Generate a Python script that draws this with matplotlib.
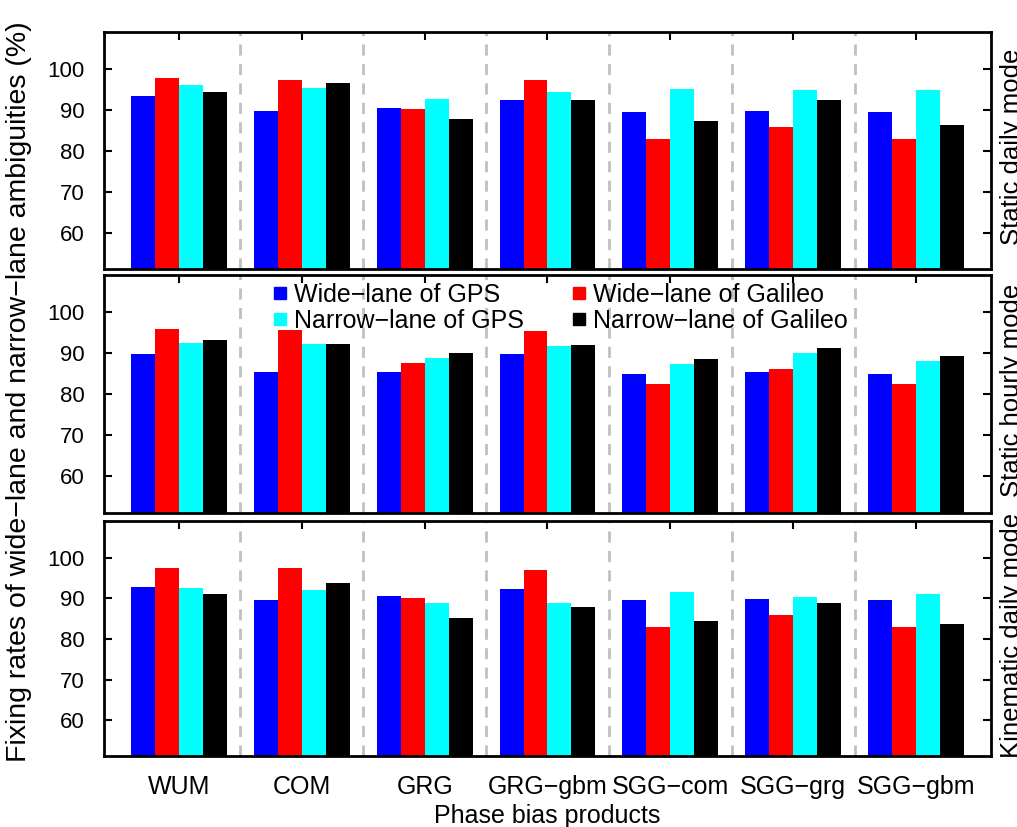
import matplotlib
matplotlib.use("Agg")
import matplotlib.pyplot as plt
from matplotlib.lines import Line2D
import numpy as np

plt.rcParams['font.family'] = ['Liberation Sans', 'DejaVu Sans']

# phase bias products (x categories)
products = ['WUM', 'COM', 'GRG', 'GRG\u2212gbm', 'SGG\u2212com', 'SGG\u2212grg', 'SGG\u2212gbm']
modes = ['Static daily mode', 'Static hourly mode', 'Kinematic daily mode']
series_names = ['Wide\u2212lane of GPS', 'Wide\u2212lane of Galileo',
                'Narrow\u2212lane of GPS', 'Narrow\u2212lane of Galileo']
colors = ['#0000ff', '#ff0000', '#00ffff', '#000000']

# fixing rates (%) per mode: [wl gps, wl gal, nl gps, nl gal]
static_daily = [
    [93.3, 89.8, 90.6, 92.5, 89.6, 89.8, 89.6],
    [97.7, 97.4, 90.3, 97.4, 82.9, 85.8, 82.9],
    [96.1, 95.4, 92.7, 94.5, 95.2, 95.0, 95.0],
    [94.3, 96.5, 87.8, 92.5, 87.4, 92.5, 86.3],
]
static_hourly = [
    [89.9, 85.5, 85.5, 89.9, 84.9, 85.5, 84.9],
    [96.0, 95.7, 87.7, 95.5, 82.5, 86.2, 82.5],
    [92.6, 92.3, 88.9, 91.7, 87.3, 90.1, 88.2],
    [93.3, 92.3, 90.1, 92.1, 88.7, 91.3, 89.4],
]
kinematic_daily = [
    [92.9, 89.5, 90.5, 92.3, 89.6, 89.9, 89.6],
    [97.4, 97.4, 90.1, 96.9, 82.9, 85.9, 82.9],
    [92.5, 92.2, 88.8, 88.8, 91.5, 90.3, 91.2],
    [91.0, 93.9, 85.1, 87.9, 84.4, 88.9, 83.7],
]
all_data = [static_daily, static_hourly, kinematic_daily]

yticks = [60, 70, 80, 90, 100]

fig = plt.figure(figsize=(10.17, 8.27), dpi=100)

W, H = 1017.0, 827.0
left, right = 104 / W, 991 / W
panels = [(31.5, 268.5), (274.5, 512.5), (520.5, 756)]  # top/bottom px

x = np.arange(len(products))
bw = 0.195

axes = []
for k, (top, bot) in enumerate(panels):
    ax = fig.add_axes([left, 1 - bot / H, right - left, (bot - top) / H])
    axes.append(ax)
    data = all_data[k]
    for j in range(4):
        ax.bar(x + (j - 1.5) * bw, data[j], width=bw, bottom=0,
               color=colors[j], edgecolor='none', zorder=2)
    for s in range(len(products) - 1):
        ax.axvline(s + 0.5, color='#c0c0c0', ls=(0, (4, 3)), lw=2, zorder=1)
    ax.set_xlim(-0.61, 6.61)
    ax.set_ylim(51.2, 109.2)
    ax.set_yticks(yticks)
    ax.set_xticks(x)
    ax.tick_params(axis='y', direction='in', length=6, width=1.5,
                   right=True, labelsize=16, pad=14)
    ax.tick_params(axis='x', direction='in', length=6, width=1.5,
                   top=True, bottom=False, labelsize=18, pad=14)
    if k < 2:
        ax.set_xticklabels([])
    else:
        ax.set_xticklabels(products)
    for sp in ax.spines.values():
        sp.set_linewidth(2)
    mid = (top + bot) / 2 - 3
    fig.text(0.983, 1 - mid / H, modes[k], rotation=90,
             ha='left', va='center', fontsize=18.5)

axes[2].set_xlabel('Phase bias products', fontsize=18, labelpad=3)

handles = [Line2D([], [], marker='s', ls='none', markersize=8,
                  markerfacecolor=c, markeredgecolor=c) for c in colors]
order = [0, 2, 1, 3]
axes[1].legend([handles[i] for i in order], [series_names[i] for i in order],
               ncol=2, frameon=False, fontsize=18, loc='upper left',
               bbox_to_anchor=(0.165, 1.058), handletextpad=0.25,
               columnspacing=1.9, labelspacing=0.08, handlelength=0.6)

fig.text(0.006, 0.526, 'Fixing rates of wide\u2212lane and narrow\u2212lane ambiguities (%)',
         rotation=90, ha='left', va='center', fontsize=20.5)

fig.savefig('out.png', dpi=100)
